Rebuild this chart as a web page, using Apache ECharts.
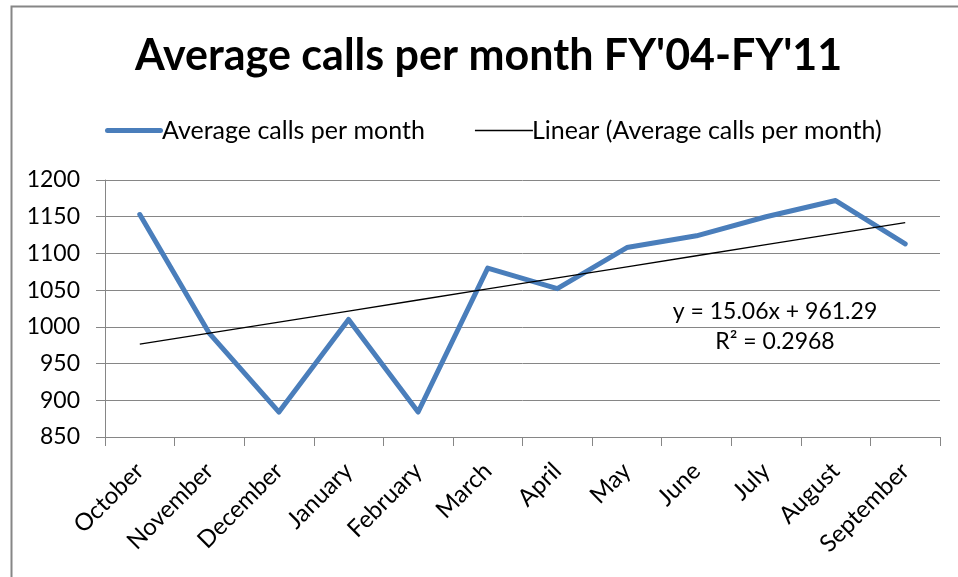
<!DOCTYPE html>
<html>
<head>
<meta charset="utf-8">
<script src="https://cdn.jsdelivr.net/npm/echarts@6/dist/echarts.min.js"></script>
<style>
    html, body { margin: 0; padding: 0; background: #fff; }
    #chart { width: 958px; height: 577px; }
</style>
</head>
<body>
<div id="chart"></div>
<script>
    // data
    const months = ["October", "November", "December", "January", "February", "March",
        "April", "May", "June", "July", "August", "September"]
    const avgCalls = [1153, 991, 884, 1010, 884, 1080, 1052, 1108, 1124, 1150, 1172, 1113]
    // Excel linear trendline, x = 1..12
    const trendSlope = 15.06
    const trendIntercept = 961.29
    const trendR2 = 0.2968
    const yTicks = { min: 850, max: 1200, interval: 50 }

    const trendValues = months.map((m, i) => +(trendIntercept + trendSlope * (i + 1)).toFixed(2))

    const font = "Lato"
    const gray = "#868686"
    const blue = "#4a7ebb"
    const chart = echarts.init(document.getElementById("chart"), null, { renderer: "canvas" })

    const option = {
        animation: false,
        backgroundColor: "#fff",
        textStyle: { fontFamily: font, color: "#000" },
        title: {
            text: "Average calls per month FY'04-FY'11",
            left: 130,
            top: 30,
            textStyle: { fontFamily: font, fontSize: 43, fontWeight: "bold", color: "#000" }
        },
        legend: {
            top: 113,
            left: 100,
            itemGap: 50,
            itemWidth: 58,
            itemHeight: 12,
            textStyle: { fontFamily: font, fontSize: 25, color: "#000", padding: [0, 0, 0, -6] },
            data: [
                { name: "Average calls per month", icon: "path://M2.5 0H55.5A2.5 2.5 0 0 1 55.5 5H2.5A2.5 2.5 0 0 1 2.5 0Z" },
                { name: "Linear (Average calls per month)", icon: "path://M0 0H58V1.3H0Z" }
            ]
        },
        grid: { left: 105, right: 18, top: 180, bottom: 140 },
        xAxis: {
            type: "category",
            data: months,
            boundaryGap: true,
            axisLine: { lineStyle: { color: gray, width: 1 } },
            axisTick: { show: true, length: 9, alignWithLabel: false, lineStyle: { color: gray } },
            axisLabel: { rotate: 45, margin: 30, fontSize: 24, color: "#000", fontFamily: font, interval: 0 }
        },
        yAxis: {
            type: "value",
            min: yTicks.min,
            max: yTicks.max,
            interval: yTicks.interval,
            axisLine: { show: true, lineStyle: { color: gray, width: 1 } },
            axisTick: { show: true, length: 9, lineStyle: { color: gray } },
            axisLabel: { margin: 25, fontSize: 23, color: "#000", fontFamily: font, formatter: v => String(v) },
            splitLine: { lineStyle: { color: gray, width: 1 } }
        },
        series: [
            {
                name: "Average calls per month",
                type: "line",
                data: avgCalls,
                symbol: "none",
                color: blue,
                lineStyle: { width: 5, color: blue, cap: "round", join: "round" },
                z: 3
            },
            {
                name: "Linear (Average calls per month)",
                type: "line",
                data: trendValues,
                symbol: "none",
                color: "#000",
                lineStyle: { width: 1.3, color: "#000" },
                z: 4
            }
        ],
        graphic: [
            {
                type: "rect",
                left: 9, top: 4,
                shape: { width: 1000, height: 620 },
                style: { fill: "none", stroke: gray, lineWidth: 2 },
                silent: true
            },
            {
                type: "text",
                x: 775, y: 327,
                style: {
                    text: "y = " + trendSlope + "x + " + trendIntercept + "\nR² = " + trendR2,
                    font: "23px Lato",
                    fill: "#000",
                    align: "center",
                    verticalAlign: "middle",
                    lineHeight: 30
                }
            }
        ]
    }
    chart.setOption(option)
</script>
</body>
</html>
